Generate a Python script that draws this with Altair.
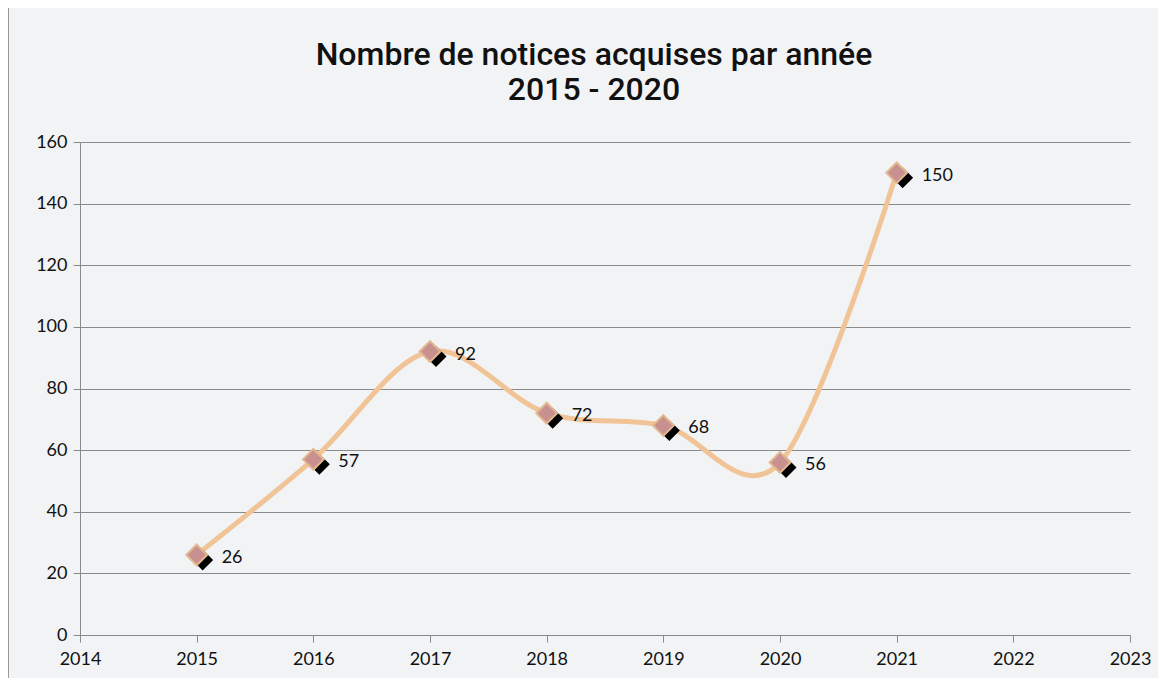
import altair as alt
import pandas as pd

years = [2015, 2016, 2017, 2018, 2019, 2020, 2021]
values = [26, 57, 92, 72, 68, 56, 150]
title_lines = ["Nombre de notices acquises par année", "2015 - 2020"]

df = pd.DataFrame({"annee": years, "notices": values})

W, H = 1050, 493
x_enc = alt.X("annee:Q", scale=alt.Scale(domain=[2014, 2023], nice=False, zero=False),
              axis=alt.Axis(values=list(range(2014, 2024)), format="d", title=None,
                            grid=False, tickSize=7, tickColor="#8a8a8a", domainColor="#8a8a8a",
                            labelFontSize=18, labelFont="Lato", labelColor="#111111",
                            labelPadding=8, labelFlush=False))
y_enc = alt.Y("notices:Q", scale=alt.Scale(domain=[0, 160], nice=False),
              axis=alt.Axis(values=list(range(0, 161, 20)), title=None, grid=True,
                            gridColor="#8a8a8a", gridWidth=1, tickSize=7, tickColor="#8a8a8a",
                            domainColor="#8a8a8a", labelFontSize=18, labelFont="Lato",
                            labelColor="#111111", labelPadding=6))

base = alt.Chart(df)

line = base.mark_line(interpolate="cardinal", color="#f0c496", strokeWidth=5).encode(x=x_enc, y=y_enc)
shadow = base.mark_point(shape="diamond", filled=True, color="#000000", size=440,
                         xOffset=6, yOffset=5, opacity=1).encode(x="annee:Q", y="notices:Q")
marker = base.mark_point(shape="diamond", filled=True, fill="#c99090", stroke="#e2b98e",
                         strokeWidth=2, size=430, opacity=1).encode(x="annee:Q", y="notices:Q")
labels = base.mark_text(align="left", baseline="middle", dx=25, dy=3, fontSize=18,
                        font="Lato", color="#111111").encode(x="annee:Q", y="notices:Q",
                                                              text="notices:Q")
border = alt.Chart(df).mark_rule(color="#9a9a9a", strokeWidth=1).encode(
    x=alt.value(-72), y=alt.value(-140), y2=alt.value(H + 50))

title_df = pd.DataFrame({"t": title_lines, "py": [-87, -52]})
title = alt.Chart(title_df).mark_text(fontSize=32, font="Roboto", fontWeight=500,
                                      color="#111111", align="center", baseline="middle").encode(
    x=alt.value(514), y=alt.Y("py:Q", scale=None), text="t:N")

chart = alt.layer(border, line, shadow, marker, labels, title).properties(
    width=W, height=H,
    autosize=alt.AutoSizeParams(type="none"),
    padding={"left": 72, "top": 134, "right": 28, "bottom": 43},
    background="#f2f3f5",
).configure_view(stroke=None)

chart.save("out.html", embed_options={"renderer": "svg", "actions": False})
